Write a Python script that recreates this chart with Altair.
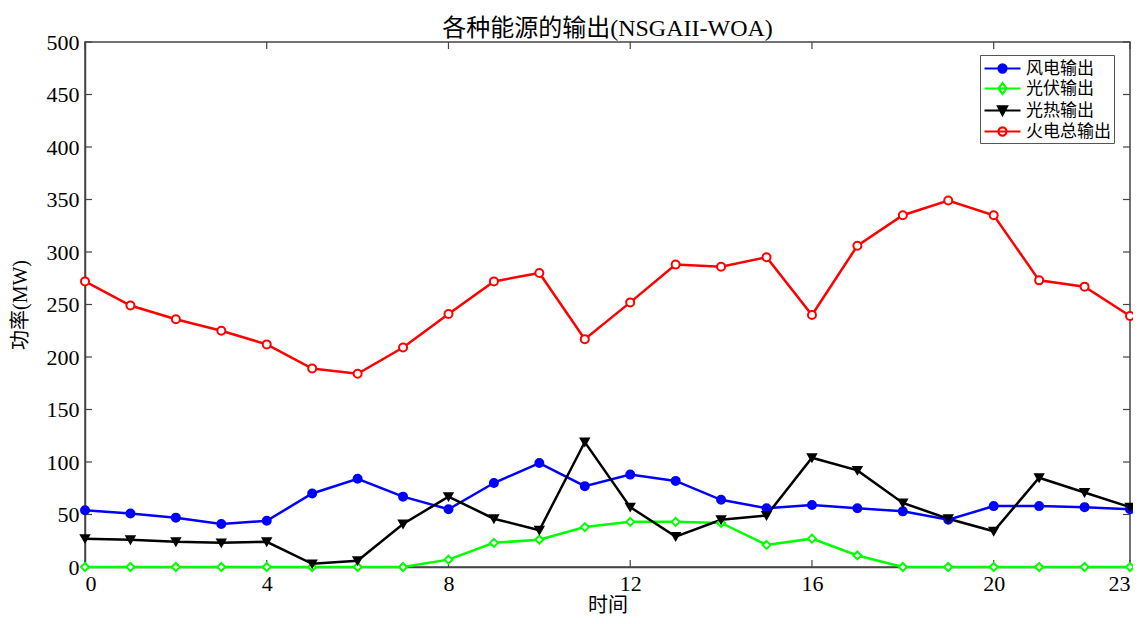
import altair as alt
import pandas as pd

hours = list(range(24))
wind = [54, 51, 47, 41, 44, 70, 84, 67, 55, 80, 99, 77, 88, 82, 64, 56, 59, 56, 53, 45, 58, 58, 57, 55]
pv = [0, 0, 0, 0, 0, 0, 0, 0, 7, 23, 26, 38, 43, 43, 42, 21, 27, 11, 0, 0, 0, 0, 0, 0]
csp = [27, 26, 24, 23, 24, 3, 6, 41, 67, 46, 35, 119, 57, 29, 45, 49, 104, 92, 61, 46, 34, 85, 71, 57]
thermal = [272, 249, 236, 225, 212, 189, 184, 209, 241, 272, 280, 217, 252, 288, 286, 295, 240, 306, 335, 349, 335, 273, 267, 239]

series_names = ["风电输出", "光伏输出", "光热输出", "火电总输出"]
colors = ["#0000ff", "#00ff00", "#000000", "#ff0000"]
fills = ["#0000ff", "#ffffff", "#000000", "#ffffff"]
shapes = ["circle", "diamond", "triangle-down", "circle"]
x_ticks = [0, 4, 8, 12, 16, 20, 23]
y_ticks = list(range(0, 501, 50))

rows = []
for name, vals in zip(series_names, [wind, pv, csp, thermal]):
    for h, v in zip(hours, vals):
        rows.append({"hour": h, "value": v, "series": name})
df = pd.DataFrame(rows)

W, H = 1045, 525
FONT = "Liberation Serif, Noto Sans CJK SC, serif"

xs = alt.Scale(domain=[0, 23], nice=False, zero=False)
ys = alt.Scale(domain=[0, 500], nice=False)

x_enc = alt.X("hour:Q", scale=xs, axis=alt.Axis(values=x_ticks, title="时间", ticks=False,
                                               grid=False, labelPadding=6, titlePadding=1))
y_enc = alt.Y("value:Q", scale=ys, axis=alt.Axis(values=y_ticks, title="功率(MW)", ticks=False,
                                                grid=False, labelPadding=6, titlePadding=16))

col = alt.Color("series:N", scale=alt.Scale(domain=series_names, range=colors), legend=None)
fil = alt.Fill("series:N", scale=alt.Scale(domain=series_names, range=fills), legend=None)
shp = alt.Shape("series:N", scale=alt.Scale(domain=series_names, range=shapes), legend=None)

base = alt.Chart(df)
lines = base.mark_line(strokeWidth=2.5).encode(x=x_enc, y=y_enc, color=col, detail="series:N")
points = base.mark_point(filled=False, size=64, strokeWidth=2, opacity=1).encode(
    x="hour:Q", y="value:Q",
    stroke=alt.Stroke("series:N", scale=alt.Scale(domain=series_names, range=colors), legend=None),
    fill=fil, shape=shp)

# legend layer (no marks, legend only)
leg_paths = [
    "M-1,0L3,0M1.45,0A0.45,0.45,0,1,1,0.55,0A0.45,0.45,0,1,1,1.45,0Z",
    "M-1,0L3,0M1,-0.6L1.45,0L1,0.6L0.55,0Z",
    "M-1,0L3,0M0.5,-0.45L1.5,-0.45L1,0.5Z",
    "M-1,0L3,0M1.45,0A0.45,0.45,0,1,1,0.55,0A0.45,0.45,0,1,1,1.45,0Z",
]
leg_df = pd.DataFrame({"name": series_names, "hour": [0] * 4, "value": [0] * 4})
legend = alt.Legend(title=None, orient="none", legendX=W - 150, legendY=13,
                    labelFont=FONT, labelFontSize=17, labelColor="black",
                    symbolSize=324, symbolStrokeWidth=2.2, symbolOpacity=1,
                    strokeColor="#555555", fillColor="white", padding=3,
                    rowPadding=1, labelOffset=22, labelLimit=200)
leg_layer = alt.Chart(leg_df).mark_point(filled=False, size=10).encode(
    x="hour:Q", y="value:Q",
    stroke=alt.Stroke("name:N", scale=alt.Scale(domain=series_names, range=colors), legend=legend),
    fill=alt.Fill("name:N", scale=alt.Scale(domain=series_names, range=fills), legend=legend),
    shape=alt.Shape("name:N", scale=alt.Scale(domain=series_names, range=leg_paths), legend=legend),
).transform_filter("false")

# inward ticks
xt = pd.DataFrame({"t": x_ticks})
yt = pd.DataFrame({"t": y_ticks})
rule = dict(color="#444444", strokeWidth=1.2)
xb = alt.Chart(xt).mark_rule(**rule).encode(x=alt.X("t:Q", scale=xs), y=alt.value(H), y2=alt.value(H - 7))
xtop = alt.Chart(xt).mark_rule(**rule).encode(x=alt.X("t:Q", scale=xs), y=alt.value(0), y2=alt.value(7))
yl = alt.Chart(yt).mark_rule(**rule).encode(y=alt.Y("t:Q", scale=ys), x=alt.value(0), x2=alt.value(7))
yr = alt.Chart(yt).mark_rule(**rule).encode(y=alt.Y("t:Q", scale=ys), x=alt.value(W), x2=alt.value(W - 7))

chart = alt.layer(xb, xtop, yl, yr, lines, points, leg_layer).resolve_scale(
    stroke="independent", fill="independent", shape="independent"
).properties(
    width=W, height=H,
    background="white",
    title=alt.Title("各种能源的输出(NSGAII-WOA)", font=FONT, fontSize=24, fontWeight="normal",
                    color="black", offset=5, frame="group", dy=15),
    autosize=alt.AutoSizeParams(type="none"),
    padding={"left": 77, "top": 34, "right": 3, "bottom": 49},
).configure_view(stroke="#444444", strokeWidth=1.5).configure_axis(
    labelFont=FONT, labelFontSize=22, labelColor="black",
    titleFont=FONT, titleFontSize=20, titleFontWeight="normal", titleColor="black",
    domainColor="#444444", domainWidth=1.5,
)

chart.save("out.html", embed_options={"renderer": "svg", "actions": False})
